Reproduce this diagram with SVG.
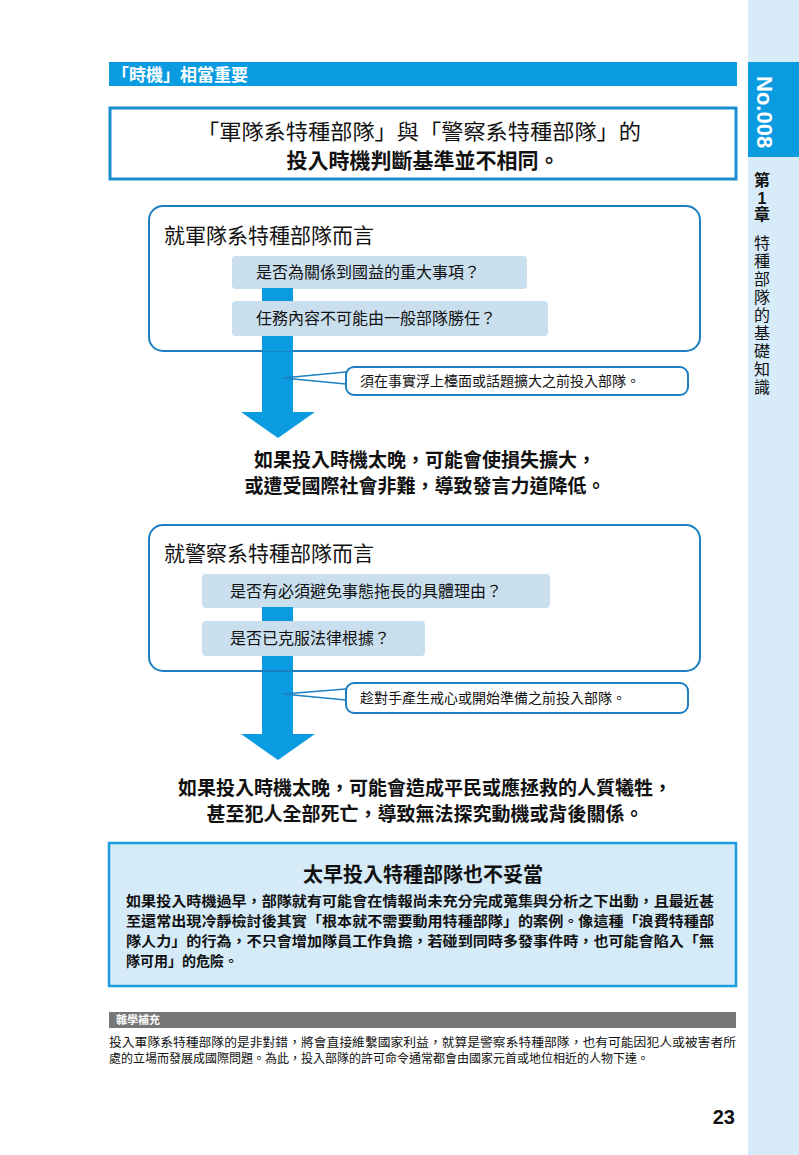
<svg xmlns="http://www.w3.org/2000/svg" width="799" height="1155" viewBox="0 0 799 1155">
<style>
text{font-family:"Liberation Sans","Noto Sans CJK TC",sans-serif;fill:#111}
.b{font-weight:bold}
.q{fill:#c9dfee}
.rb{fill:#fff;stroke:#1b7fc0;stroke-width:2}
.c{text-anchor:middle}
</style>
<rect x="748" y="0" width="51" height="1155" fill="#d7ecf8"/>
<rect x="748" y="62" width="51" height="95" fill="#0a9be0"/>
<text transform="translate(757,76) rotate(90)" class="b" font-size="22" style="fill:#fff">No.008</text>
<g class="b" font-size="16" text-anchor="middle"><text x="762" y="186">第</text><text x="762" y="204">1</text><text x="762" y="220">章</text></g>
<g font-size="16" text-anchor="middle">
<text x="762" y="249">特</text><text x="762" y="267">種</text><text x="762" y="285">部</text><text x="762" y="303">隊</text><text x="762" y="321">的</text><text x="762" y="339">基</text><text x="762" y="357">礎</text><text x="762" y="375">知</text><text x="762" y="393">識</text></g>
<g id="header"><rect x="109" y="62" width="628" height="24" fill="#0a9be0"/><text x="112" y="81" class="b" font-size="17" style="fill:#fff">「時機」相當重要</text></g>
<g id="summary"><rect x="110" y="108" width="626" height="71" fill="#fff" stroke="#1a8fd0" stroke-width="3"/>
<text x="197" y="139" font-size="21" textLength="444" lengthAdjust="spacingAndGlyphs">「軍隊系特種部隊」與「警察系特種部隊」的</text>
<text x="423" y="168" class="c b" font-size="21">投入時機判斷基準並不相同。</text></g>
<g id="connectors" fill="#0a9be0">
<rect x="262" y="288" width="31" height="125"/><polygon points="241,412 315,412 278,438"/>
<rect x="262" y="607" width="31" height="128"/><polygon points="241,734 315,734 278,760"/>
<path d="M283,378 L346,372 M283,378 L346,384" stroke="#1b7fc0" stroke-width="1.5" fill="none"/>
<path d="M283,694 L346,689 M283,694 L346,700" stroke="#1b7fc0" stroke-width="1.5" fill="none"/>
</g>
<g id="military">
<rect x="149" y="206" width="551" height="145" rx="14" class="rb"/>
<text x="164" y="243" font-size="21">就軍隊系特種部隊而言</text>
<rect x="232" y="256" width="295" height="33" rx="4" class="q"/>
<text x="256" y="278" font-size="16">是否為關係到國益的重大事項？</text>
<rect x="232" y="301" width="316" height="35" rx="4" class="q"/>
<text x="256" y="324" font-size="16">任務內容不可能由一般部隊勝任？</text>
</g>
<g id="rebuild" fill="#0a9be0"><rect x="262" y="288" width="31" height="13"/><rect x="262" y="336" width="31" height="15"/></g>
<g id="callout1"><rect x="346" y="367" width="342" height="28" rx="8" class="rb"/><text x="360" y="386" font-size="14">須在事實浮上檯面或話題擴大之前投入部隊。</text></g>
<g id="result1"><text x="425" y="467" class="c b" font-size="19">如果投入時機太晚，可能會使損失擴大，</text><text x="425" y="493" class="c b" font-size="19">或遭受國際社會非難，導致發言力道降低。</text></g>
<g id="police">
<rect x="149" y="525" width="551" height="146" rx="14" class="rb"/>
<text x="164" y="561" font-size="21">就警察系特種部隊而言</text>
<rect x="202" y="574" width="348" height="34" rx="4" class="q"/>
<text x="230" y="597" font-size="16">是否有必須避免事態拖長的具體理由？</text>
<rect x="202" y="621" width="223" height="35" rx="4" class="q"/>
<text x="230" y="644" font-size="16">是否已克服法律根據？</text>
</g>
<g fill="#0a9be0"><rect x="262" y="607" width="31" height="14"/><rect x="262" y="656" width="31" height="14"/></g>
<g id="callout2"><rect x="346" y="683" width="342" height="30" rx="8" class="rb"/><text x="360" y="703" font-size="14">趁對手產生戒心或開始準備之前投入部隊。</text></g>
<g id="result2"><text x="425" y="795" class="c b" font-size="19">如果投入時機太晚，可能會造成平民或應拯救的人質犧牲，</text><text x="425" y="821" class="c b" font-size="19">甚至犯人全部死亡，導致無法探究動機或背後關係。</text></g>
<g id="note"><rect x="109" y="843" width="627" height="143" fill="#d5ebf8" stroke="#1a9de0" stroke-width="2.5"/>
<text x="423" y="882" class="c b" font-size="20">太早投入特種部隊也不妥當</text>
<g font-size="14" style="font-weight:600">
<text x="126" y="906" textLength="588" lengthAdjust="spacingAndGlyphs">如果投入時機過早，部隊就有可能會在情報尚未充分完成蒐集與分析之下出動，且最近甚</text>
<text x="126" y="926" textLength="588" lengthAdjust="spacingAndGlyphs">至還常出現冷靜檢討後其實「根本就不需要動用特種部隊」的案例。像這種「浪費特種部</text>
<text x="126" y="946" textLength="588" lengthAdjust="spacingAndGlyphs">隊人力」的行為，不只會增加隊員工作負擔，若碰到同時多發事件時，也可能會陷入「無</text>
<text x="126" y="966">隊可用」的危險。</text></g></g>
<g id="trivia"><rect x="109" y="1012" width="627" height="16" fill="#777"/><text x="116" y="1024" class="b" font-size="11" style="fill:#fff">雜學補充</text>
<text x="109" y="1047" font-size="12" textLength="627" lengthAdjust="spacingAndGlyphs">投入軍隊系特種部隊的是非對錯，將會直接維繫國家利益，就算是警察系特種部隊，也有可能因犯人或被害者所</text>
<text x="109" y="1063" font-size="12">處的立場而發展成國際問題。為此，投入部隊的許可命令通常都會由國家元首或地位相近的人物下達。</text></g>
<text x="735" y="1124" text-anchor="end" class="b" font-size="20">23</text>
</svg>
